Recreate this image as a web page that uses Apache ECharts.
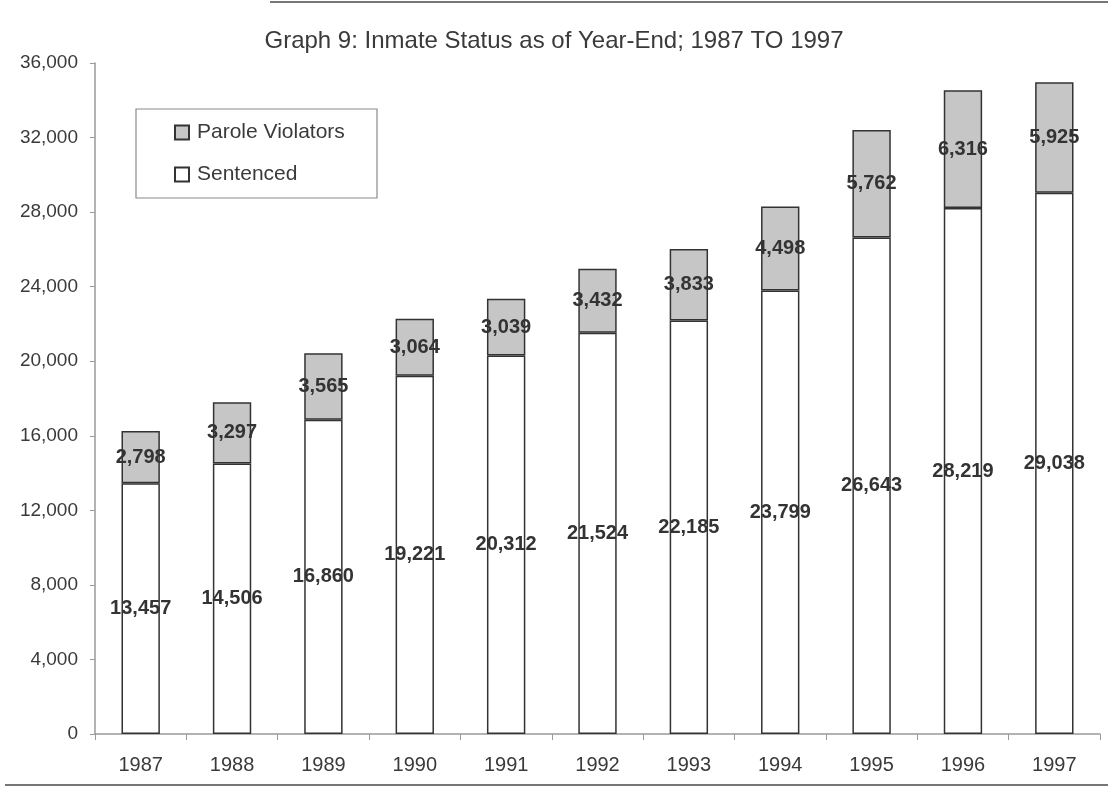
<!DOCTYPE html>
<html>
<head>
<meta charset="utf-8">
<script src="https://cdn.jsdelivr.net/npm/echarts@6/dist/echarts.min.js"></script>
<style>
  html, body { margin: 0; padding: 0; background: #fff; }
</style>
</head>
<body>
<div id="inmateChart" style="width:1108px;height:788px;"></div>
<script>
  // data
  var years = ['1987', '1988', '1989', '1990', '1991', '1992', '1993', '1994', '1995', '1996', '1997']
  var sentenced = [13457, 14506, 16860, 19221, 20312, 21524, 22185, 23799, 26643, 28219, 29038]
  var paroleViolators = [2798, 3297, 3565, 3064, 3039, 3432, 3833, 4498, 5762, 6316, 5925]
  var yTicks = { min: 0, max: 36000, interval: 4000 }

  function fmt(v) {
    return v.toLocaleString('en-US')
  }

  var labelStyle = {
    show: true,
    position: 'inside',
    fontFamily: 'Liberation Sans, Arial',
    fontSize: 20,
    fontWeight: 'bold',
    color: '#333333',
    formatter: function (p) { return fmt(p.value) }
  }

  var chart = echarts.init(document.getElementById('inmateChart'))
  chart.setOption({
    animation: false,
    textStyle: { fontFamily: 'Liberation Sans, Arial' },
    title: {
      text: 'Graph 9: Inmate Status as of Year-End; 1987 TO 1997',
      left: 'center',
      top: 24,
      textStyle: {
        fontWeight: 'normal',
        fontSize: 24,
        color: '#3a3a3a',
        fontFamily: 'Liberation Sans, Arial'
      }
    },
    legend: {
      orient: 'vertical',
      left: 169,
      top: 117,
      itemGap: 21,
      itemWidth: 14,
      itemHeight: 14,
      icon: 'rect',
      data: ['Parole Violators', 'Sentenced'],
      selectedMode: false,
      textStyle: {
        fontSize: 21,
        color: '#3a3a3a',
        padding: [0, 0, 0, 3]
      }
    },
    graphic: [
      {
        type: 'rect',
        shape: { x: 136, y: 109, width: 241, height: 89 },
        style: { fill: 'none', stroke: '#8a8a8a', lineWidth: 1.2 },
        z: 0
      },
      {
        type: 'line',
        shape: { x1: 270, y1: 2, x2: 1108, y2: 2 },
        style: { stroke: '#777', lineWidth: 2 }
      },
      {
        type: 'line',
        shape: { x1: 5, y1: 785, x2: 1108, y2: 785 },
        style: { stroke: '#777', lineWidth: 2 }
      }
    ],
    grid: {
      left: 95,
      right: 8,
      top: 63,
      bottom: 54
    },
    xAxis: {
      type: 'category',
      data: years,
      axisLine: { lineStyle: { color: '#9a9a9a', width: 1.5 } },
      axisTick: { show: true, length: 6, lineStyle: { color: '#9a9a9a' } },
      axisLabel: { fontSize: 20, color: '#3a3a3a', margin: 21 }
    },
    yAxis: {
      type: 'value',
      min: yTicks.min,
      max: yTicks.max,
      interval: yTicks.interval,
      splitLine: { show: false },
      axisLine: { show: true, lineStyle: { color: '#9a9a9a', width: 1.5 } },
      axisTick: { show: true, length: 5, lineStyle: { color: '#9a9a9a' } },
      axisLabel: {
        fontSize: 19,
        color: '#3a3a3a',
        margin: 17,
        formatter: function (v) { return fmt(v) }
      }
    },
    series: [
      {
        name: 'Sentenced',
        type: 'bar',
        stack: 'total',
        barWidth: '42%',
        data: sentenced,
        itemStyle: { color: '#ffffff', borderColor: '#333333', borderWidth: 1.5 },
        label: labelStyle
      },
      {
        name: 'Parole Violators',
        type: 'bar',
        stack: 'total',
        barWidth: '42%',
        data: paroleViolators,
        itemStyle: { color: '#c6c6c6', borderColor: '#333333', borderWidth: 1.5 },
        label: labelStyle
      }
    ]
  })
</script>
</body>
</html>
